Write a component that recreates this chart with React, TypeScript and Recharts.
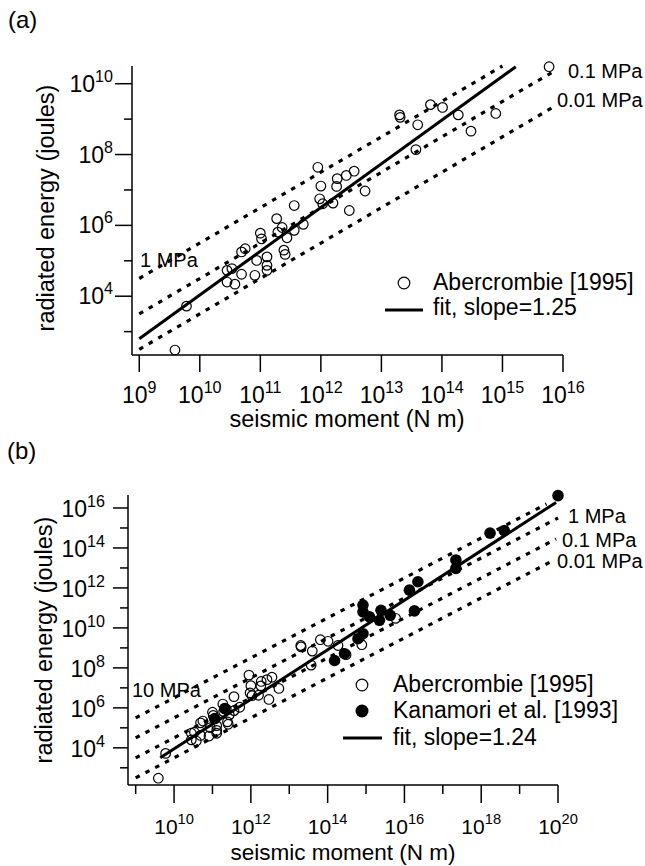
import React from 'react';
import { ScatterChart, Scatter, XAxis, YAxis, ReferenceLine } from 'recharts';

// Abercrombie [1995]: log10 seismic moment (N m) and log10 radiated energy (J)
const aberLogM0 = [
  9.59, 9.78, 10.45, 10.45, 10.58, 10.53, 10.69, 10.91, 10.69, 10.75,
  10.94, 11.11, 11.11, 11.11, 11.39, 11.41, 11.0, 11.02, 11.29, 11.36,
  11.44, 11.56, 11.27, 11.71, 11.56, 11.98, 12.03, 12.2, 12.47, 11.95,
  12.0, 12.26, 12.27, 12.42, 12.55, 12.73, 13.3, 13.31, 13.6, 13.57,
  13.81, 14.01, 14.27, 14.48, 14.89, 15.77,
];
const aberLogEr = [
  2.48, 3.72, 4.4, 4.73, 4.34, 4.78, 4.62, 4.59, 5.25, 5.34,
  5.01, 5.11, 4.87, 4.73, 5.3, 5.18, 5.78, 5.62, 5.81, 5.94,
  5.65, 5.86, 6.19, 6.03, 6.56, 6.75, 6.61, 6.63, 6.42, 7.64,
  7.11, 7.1, 7.32, 7.41, 7.53, 6.97, 9.12, 9.05, 8.84, 8.14,
  9.41, 9.33, 9.12, 8.66, 9.16, 10.48,
];

// Kanamori et al. [1993]
const kanaLogM0 = [
  20.0, 18.23, 18.6, 17.34, 17.34, 16.35, 16.13, 16.26, 14.92, 14.92,
  15.09, 15.39, 15.35, 15.63, 14.92, 14.79, 14.44, 14.18, 11.32, 11.06,
];
const kanaLogEr = [
  16.62, 14.74, 14.87, 13.4, 12.98, 12.31, 11.89, 10.85, 11.14, 10.8,
  10.55, 10.88, 10.38, 10.63, 9.71, 9.46, 8.71, 8.37, 5.96, 5.46,
];

// constant stress-drop lines and fits, end points
// [logM0 start, logEr start, logM0 end, logEr end]
const stressLinesA = [
  [9.0, 4.5, 15.0, 10.5],
  [9.0, 3.5, 15.85, 10.35],
  [9.0, 2.5, 15.85, 9.35],
];
const fitA = [9.0, 2.8, 15.22, 10.48];

const stressLinesB = [
  [9.0, 5.5, 19.7, 16.2],
  [9.0, 4.5, 20.0, 15.5],
  [9.0, 3.5, 19.95, 14.45],
  [9.0, 2.5, 19.85, 13.35],
];
const fitB = [9.64, 3.5, 19.95, 16.28];

const ticksAX = [9, 10, 11, 12, 13, 14, 15, 16];
const labelsAX = [9, 10, 11, 12, 13, 14, 15, 16];
const ticksAY = [3, 4, 5, 6, 7, 8, 9, 10];
const labelsAY = [4, 6, 8, 10];
const ticksBX = [9, 10, 11, 12, 13, 14, 15, 16, 17, 18, 19, 20];
const labelsBX = [10, 12, 14, 16, 18, 20];
const ticksBY = [3, 4, 5, 6, 7, 8, 9, 10, 11, 12, 13, 14, 15, 16];
const labelsBY = [4, 6, 8, 10, 12, 14, 16];

const aberData = aberLogM0.map((m, i) => ({ m, e: aberLogEr[i] }));
const kanaData = kanaLogM0.map((m, i) => ({ m, e: kanaLogEr[i] }));

const FONT = '"Liberation Sans", Arial, Helvetica, sans-serif';
const DOT = '4.5 6.5';

const OpenDot = (p: any) => (
  <circle cx={p.cx} cy={p.cy} r={4.8} fill="none" stroke="#000" strokeWidth={1.2} />
);
const FilledDot = (p: any) => <circle cx={p.cx} cy={p.cy} r={5.8} fill="#000" />;

const Pow = ({ x, y, n, anchor, size = 23 }: any) => (
  <text x={x} y={y} textAnchor={anchor} fontFamily={FONT} fontSize={size} fill="#000">
    10
    <tspan dy={-10} fontSize={size * 0.7}>{n}</tspan>
  </text>
);

const xTick = (labelled: number[], major: number, minor: number, base: number, size: number) => (p: any) => {
  const v = p.payload.value;
  const lab = labelled.includes(v);
  return (
    <g>
      <line x1={p.x} x2={p.x} y1={p.y} y2={p.y + (lab ? major : minor)} stroke="#000" strokeWidth={1.5} />
      {lab && <Pow x={p.x} y={p.y + base} n={v} anchor="middle" size={size} />}
    </g>
  );
};

const yTick = (labelled: number[], major: number, minor: number, gap: number, base: number) => (p: any) => {
  const v = p.payload.value;
  const lab = labelled.includes(v);
  return (
    <g>
      <line x1={p.x} x2={p.x - (lab ? major : minor)} y1={p.y} y2={p.y} stroke="#000" strokeWidth={1.5} />
      {lab && <Pow x={p.x - gap} y={p.y + base} n={v} anchor="end" />}
    </g>
  );
};

const seg = (s: number[]) => [{ x: s[0], y: s[1] }, { x: s[2], y: s[3] }];

export default function App() {
  return (
    <div style={{ position: 'absolute', left: 0, top: 0, width: 645, height: 866, background: '#fff' }}>
      <div style={{ position: 'absolute', left: 0, top: 0 }}>
        <ScatterChart width={645} height={440} margin={{ top: 66, right: 82, bottom: 55, left: 72 }}>
          <XAxis
            type="number" dataKey="m" domain={[8.88, 16]} ticks={ticksAX} height={30}
            axisLine={{ stroke: '#000', strokeWidth: 1.5 }} tickLine={false} tickSize={0} tickMargin={0}
            tick={xTick(labelsAX, 17, 17, 48, 23)} interval={0}
          />
          <YAxis
            type="number" dataKey="e" domain={[2.34, 10.5]} ticks={ticksAY} width={60}
            axisLine={{ stroke: '#000', strokeWidth: 1.5 }} tickLine={false} tickSize={0} tickMargin={0}
            tick={yTick(labelsAY, 17, 8, 19, 8)} interval={0}
          />
          {stressLinesA.map((s, i) => (
            <ReferenceLine key={i} segment={seg(s)} stroke="#000" strokeWidth={3.2} strokeDasharray={DOT} ifOverflow="visible" />
          ))}
          <ReferenceLine segment={seg(fitA)} stroke="#000" strokeWidth={3} ifOverflow="visible" />
          <Scatter data={aberData} shape={OpenDot} isAnimationActive={false} />
        </ScatterChart>
      </div>
      <div style={{ position: 'absolute', left: 0, top: 440 }}>
        <ScatterChart width={645} height={426} margin={{ top: 55, right: 87, bottom: 51, left: 68 }}>
          <XAxis
            type="number" dataKey="m" domain={[8.8, 20]} ticks={ticksBX} height={30}
            axisLine={{ stroke: '#000', strokeWidth: 1.5 }} tickLine={false} tickSize={0} tickMargin={0}
            tick={xTick(labelsBX, 18, 9, 49, 21)} interval={0}
          />
          <YAxis
            type="number" dataKey="e" domain={[2.14, 16.65]} ticks={ticksBY} width={60}
            axisLine={{ stroke: '#000', strokeWidth: 1.5 }} tickLine={false} tickSize={0} tickMargin={0}
            tick={yTick(labelsBY, 15, 8, 23, 9)} interval={0}
          />
          {stressLinesB.map((s, i) => (
            <ReferenceLine key={i} segment={seg(s)} stroke="#000" strokeWidth={3.2} strokeDasharray={DOT} ifOverflow="visible" />
          ))}
          <ReferenceLine segment={seg(fitB)} stroke="#000" strokeWidth={3} ifOverflow="visible" />
          <Scatter data={aberData} shape={OpenDot} isAnimationActive={false} />
          <Scatter data={kanaData} shape={FilledDot} isAnimationActive={false} />
        </ScatterChart>
      </div>
      <svg width={645} height={866} style={{ position: 'absolute', left: 0, top: 0, pointerEvents: 'none' }}
        fontFamily={FONT} fill="#000">
        <text x={8} y={28} fontSize={24}>(a)</text>
        <text x={7} y={459} fontSize={24}>(b)</text>

        <text x={347} y={427} fontSize={23.5} textAnchor="middle">seismic moment (N m)</text>
        <text x={343} y={860} fontSize={22.5} textAnchor="middle">seismic moment (N m)</text>
        <text transform="translate(54,208) rotate(-90)" fontSize={23.5} textAnchor="middle">radiated energy (joules)</text>
        <text transform="translate(52,640) rotate(-90)" fontSize={23.5} textAnchor="middle">radiated energy (joules)</text>

        <text x={140} y={267} fontSize={20}>1 MPa</text>
        <text x={568} y={78} fontSize={20}>0.1 MPa</text>
        <text x={557} y={107} fontSize={20}>0.01 MPa</text>

        <text x={132} y={697} fontSize={20}>10 MPa</text>
        <text x={568} y={523} fontSize={20}>1 MPa</text>
        <text x={562} y={547} fontSize={20}>0.1 MPa</text>
        <text x={557} y={568} fontSize={20}>0.01 MPa</text>

        <circle cx={404} cy={283} r={5.8} fill="none" stroke="#000" strokeWidth={1.2} />
        <text x={433} y={290} fontSize={23}>Abercrombie [1995]</text>
        <line x1={385} x2={423} y1={310} y2={310} stroke="#000" strokeWidth={3} />
        <text x={433} y={315} fontSize={23}>fit, slope=1.25</text>

        <circle cx={362} cy={685} r={5.8} fill="none" stroke="#000" strokeWidth={1.2} />
        <text x={393} y={692} fontSize={23}>Abercrombie [1995]</text>
        <circle cx={362} cy={711} r={6.5} fill="#000" />
        <text x={393} y={718} fontSize={23}>Kanamori et al. [1993]</text>
        <line x1={343} x2={382} y1={738} y2={738} stroke="#000" strokeWidth={3} />
        <text x={393} y={745} fontSize={23}>fit, slope=1.24</text>
      </svg>
    </div>
  );
}
